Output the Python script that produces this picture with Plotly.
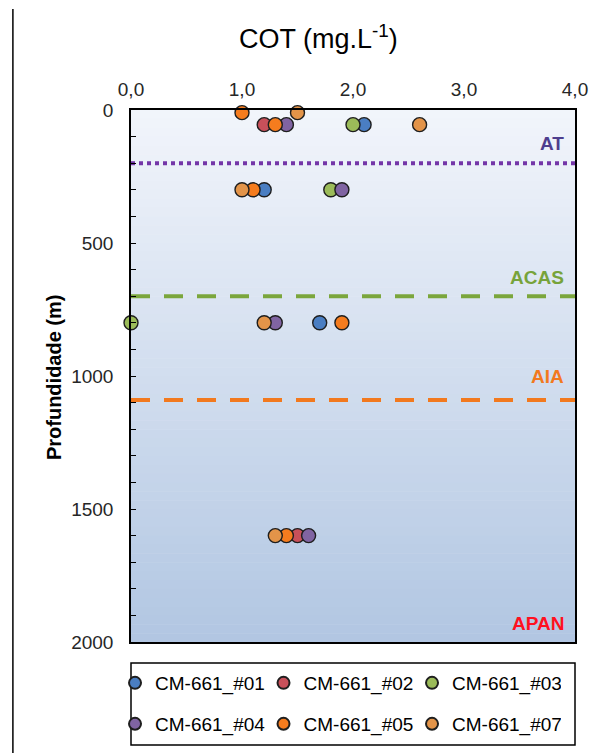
import plotly.graph_objects as go

# --- data -------------------------------------------------------------
series_names = ["CM-661_#01", "CM-661_#02", "CM-661_#03",
                "CM-661_#04", "CM-661_#05", "CM-661_#07"]
series_colors = ["#4A7EC2", "#C8505A", "#9BBB59", "#8064A2", "#F57C1E", "#E39449"]

cot_01 = [2.1, 1.2, 1.7]
depth_01 = [55, 300, 800]
cot_02 = [1.2, 1.5]
depth_02 = [55, 1600]
cot_03 = [2.0, 1.8, 0.0]
depth_03 = [55, 300, 800]
cot_04 = [1.4, 1.9, 1.3, 1.6]
depth_04 = [55, 300, 800, 1600]
cot_05 = [1.0, 1.3, 1.1, 1.9, 1.4]
depth_05 = [10, 55, 300, 800, 1600]
cot_07 = [1.5, 2.6, 1.0, 1.2, 1.3]
depth_07 = [10, 55, 300, 800, 1600]

series_cot = [cot_01, cot_02, cot_03, cot_04, cot_05, cot_07]
series_depth = [depth_01, depth_02, depth_03, depth_04, depth_05, depth_07]

x_tickvals = [0, 1, 2, 3, 4]
x_ticktext = ["0,0", "1,0", "2,0", "3,0", "4,0"]

# water-mass boundaries (m) and labels
mass_names = ["AT", "ACAS", "AIA"]
mass_depths = [200, 700, 1090]
mass_colors = ["#7436A8", "#7BA63C", "#F2791E"]
mass_dash = ["dot", "19px,14px", "19px,14px"]
label_names = ["AT", "ACAS", "AIA", "APAN"]
label_depths = [125, 630, 1002, 1930]
label_colors = ["#4E3E8E", "#77A33A", "#F2791E", "#FF1020"]

FONT = "Liberation Sans, Arial, sans-serif"

fig = go.Figure()

# boundary lines spanning the full COT range
for name, d, c, dash in zip(mass_names, mass_depths, mass_colors, mass_dash):
    fig.add_trace(go.Scatter(
        x=[0, 4], y=[d, d], mode="lines",
        line=dict(color=c, width=4, dash=dash),
        showlegend=False, hoverinfo="skip", cliponaxis=True,
    ))

# sample points
for i, (name, col, xs, ys) in enumerate(zip(series_names, series_colors,
                                            series_cot, series_depth)):
    fig.add_trace(go.Scatter(
        x=xs, y=ys, mode="markers", name=name,
        marker=dict(size=14, color=col, line=dict(color="#1E1E1E", width=1.4)),
        cliponaxis=False,
        legend="legend" if i < 3 else "legend2",
    ))

# gradient background of the plot area
top = (242, 245, 251)
bot = (177, 198, 226)
n_bands = 60
for k in range(n_bands):
    t = (k + 0.5) / n_bands
    c = tuple(round(top[j] + (bot[j] - top[j]) * t) for j in range(3))
    fig.add_shape(type="rect", xref="x domain", yref="y domain",
                  x0=0, x1=1, y0=1 - (k + 1) / n_bands - 0.001, y1=1 - k / n_bands,
                  fillcolor="rgb(%d,%d,%d)" % c, line_width=0, layer="below")

# legend frame
fig.add_shape(type="rect", xref="paper", yref="paper",
              x0=0, x1=1, y0=-0.1936, y1=-0.0395,
              line=dict(color="black", width=1.5), fillcolor="white", layer="below")

# outer frame line on the left
fig.add_shape(type="line", xref="paper", yref="paper",
              x0=-0.266, x1=-0.266, y0=1.19, y1=-0.3,
              line=dict(color="black", width=1.5))

# water-mass labels
for name, d, c in zip(label_names, label_depths, label_colors):
    fig.add_annotation(x=0.98, xref="paper", xanchor="right",
                       y=d, yref="y", yanchor="middle", text="<b>%s</b>" % name,
                       showarrow=False, font=dict(family=FONT, size=19, color=c))

# titles
fig.add_annotation(x=0.4234, y=1.1363, xref="paper", yref="paper",
                   text="COT (mg.L<sup>-1</sup>)", showarrow=False,
                   xanchor="center", yanchor="middle",
                   font=dict(family=FONT, size=27, color="black"))
fig.add_annotation(x=-0.1734, y=0.498, xref="paper", yref="paper",
                   text="<b>Profundidade (m)</b>", textangle=-90, showarrow=False,
                   xanchor="center", yanchor="middle",
                   font=dict(family=FONT, size=20, color="black"))

fig.update_xaxes(
    range=[0, 4], side="top", tickvals=x_tickvals, ticktext=x_ticktext,
    showgrid=False, zeroline=False, showline=True, mirror=True,
    linecolor="black", linewidth=1.5, ticks="",
    tickfont=dict(family=FONT, size=19, color="#262626"),
    ticklabelstandoff=5,
)
fig.update_yaxes(
    range=[2000, 0], dtick=500, showgrid=False, zeroline=False,
    showline=True, mirror=True, linecolor="black", linewidth=1.5,
    ticks="inside", ticklen=5, tickwidth=1.3, tickcolor="black",
    minor=dict(dtick=100, ticks="inside", ticklen=5, tickwidth=1.3,
               tickcolor="black", showgrid=False),
    tickfont=dict(family=FONT, size=19, color="#262626"),
    ticklabelstandoff=12,
)

legend_common = dict(
    orientation="h", xanchor="left", yanchor="top",
    bgcolor="rgba(0,0,0,0)", borderwidth=0,
    font=dict(family=FONT, size=19, color="black"),
    itemsizing="constant", entrywidth=103.5, entrywidthmode="pixels",
)
fig.update_layout(
    width=612, height=753,
    margin=dict(l=131, r=37, t=110, b=111, autoexpand=False),
    paper_bgcolor="white", plot_bgcolor="white",
    showlegend=True,
    legend=dict(x=-0.036, y=-0.0414, **legend_common),
    legend2=dict(x=-0.036, y=-0.1184, **legend_common),
)

fig.write_html("out.html")
